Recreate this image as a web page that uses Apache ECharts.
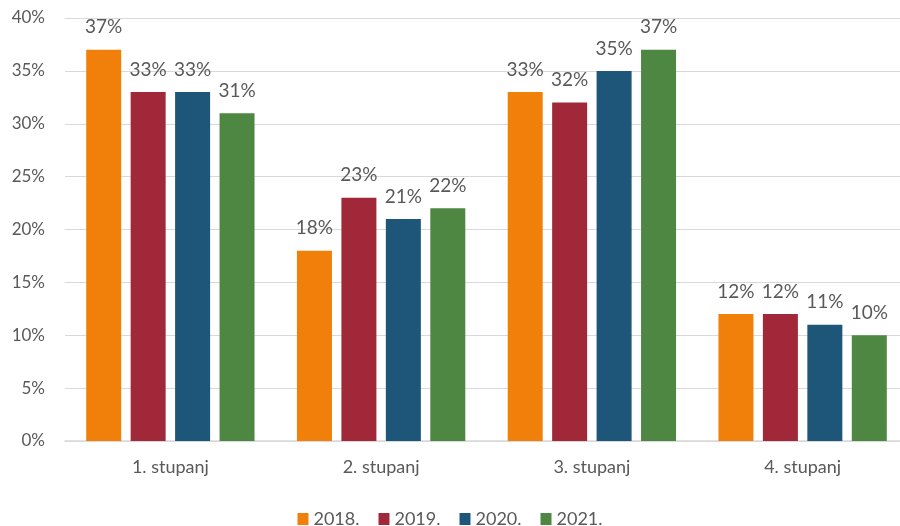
<!DOCTYPE html>
<html><head><meta charset="utf-8">
<script src="https://cdn.jsdelivr.net/npm/echarts@6/dist/echarts.min.js"></script>
<style>html,body{margin:0;padding:0;background:#fff}#c{width:900px;height:526px}</style>
</head><body><div id="c"></div>
<script>
const categories = ['1. stupanj', '2. stupanj', '3. stupanj', '4. stupanj'];
const seriesNames = ['2018.', '2019.', '2020.', '2021.'];
const v2018 = [37, 18, 33, 12];
const v2019 = [33, 23, 32, 12];
const v2020 = [33, 21, 35, 11];
const v2021 = [31, 22, 37, 10];
const yTicks = [0, 5, 10, 15, 20, 25, 30, 35, 40];
const colors = ['#F0800A', '#A02838', '#1D5679', '#4D8742'];
const values = [v2018, v2019, v2020, v2021];
const font = 'Lato, "Open Sans", sans-serif';
const chart = echarts.init(document.getElementById('c'));
chart.setOption({
  animation: false,
  textStyle: { fontFamily: font },
  grid: { left: 65, width: 843, top: 18, bottom: 85, containLabel: false, outerBoundsMode: 'none' },
  legend: {
    bottom: -7, itemWidth: 11, itemHeight: 12, itemGap: 19, icon: 'rect',
    textStyle: { fontSize: 18, color: '#595959', fontFamily: font },
    data: seriesNames
  },
  xAxis: {
    type: 'category', data: categories,
    axisLine: { lineStyle: { color: '#D9D9D9', width: 1.5 } },
    axisTick: { show: false },
    axisLabel: { fontSize: 18, color: '#595959', margin: 17, fontFamily: font }
  },
  yAxis: {
    type: 'value', min: yTicks[0], max: yTicks[yTicks.length - 1], interval: 5,
    axisLine: { show: false }, axisTick: { show: false },
    splitLine: { lineStyle: { color: '#D9D9D9' } },
    axisLabel: { fontSize: 17, color: '#595959', margin: 20, formatter: '{value}%', fontFamily: font }
  },
  series: seriesNames.map((n, i) => ({
    name: n, type: 'bar', data: values[i],
    barWidth: 35, barGap: '27%', barCategoryGap: '20%',
    itemStyle: { color: colors[i] },
    label: { show: true, position: 'top', distance: 13, formatter: '{c}%', fontSize: 19, color: '#595959', fontFamily: font }
  }))
});
</script></body></html>
